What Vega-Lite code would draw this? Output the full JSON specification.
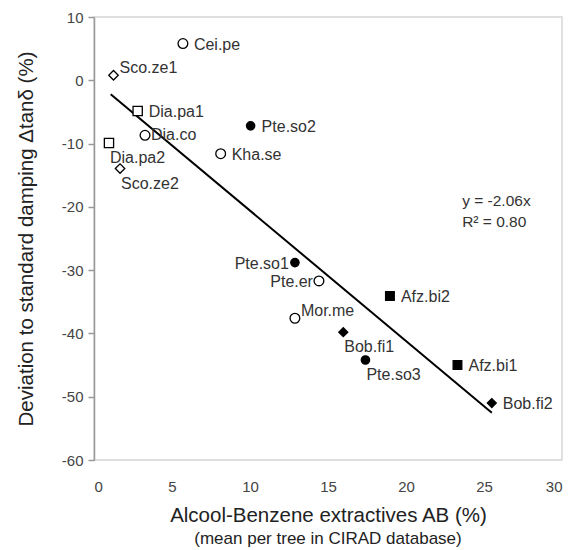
{
  "$schema": "https://vega.github.io/schema/vega-lite/v6.json",
  "width": 468,
  "height": 443,
  "autosize": {"type": "none"},
  "padding": {"left": 94, "top": 17, "right": 9, "bottom": 90},
  "background": "white",
  "config": {
    "font": "Liberation Sans",
    "view": {"stroke": "#d6d6d6", "strokeWidth": 1.5}
  },
  "title": {
    "text": "(mean per tree in CIRAD database)",
    "orient": "bottom",
    "anchor": "middle",
    "fontSize": 17,
    "fontWeight": "normal",
    "color": "#222",
    "offset": 5
  },
  "datasets": {
    "points": [
      {"name": "Cei.pe", "AB": 5.7, "dtan": 5.8, "group": "other"},
      {"name": "Sco.ze1", "AB": 1.25, "dtan": 0.8, "group": "Sco.ze"},
      {"name": "Dia.pa1", "AB": 2.8, "dtan": -4.85, "group": "Dia.pa"},
      {"name": "Dia.co", "AB": 3.27, "dtan": -8.7, "group": "other"},
      {"name": "Dia.pa2", "AB": 0.96, "dtan": -9.9, "group": "Dia.pa"},
      {"name": "Sco.ze2", "AB": 1.67, "dtan": -13.95, "group": "Sco.ze"},
      {"name": "Pte.so2", "AB": 10.04, "dtan": -7.2, "group": "Pte.so"},
      {"name": "Kha.se", "AB": 8.12, "dtan": -11.6, "group": "other"},
      {"name": "Pte.so1", "AB": 12.88, "dtan": -28.8, "group": "Pte.so"},
      {"name": "Pte.er", "AB": 14.42, "dtan": -31.7, "group": "other"},
      {"name": "Mor.me", "AB": 12.88, "dtan": -37.6, "group": "other"},
      {"name": "Afz.bi2", "AB": 18.97, "dtan": -34.1, "group": "Afz.bi"},
      {"name": "Bob.fi1", "AB": 15.98, "dtan": -39.8, "group": "Bob.fi"},
      {"name": "Pte.so3", "AB": 17.4, "dtan": -44.2, "group": "Pte.so"},
      {"name": "Afz.bi1", "AB": 23.3, "dtan": -45.0, "group": "Afz.bi"},
      {"name": "Bob.fi2", "AB": 25.5, "dtan": -51.0, "group": "Bob.fi"}
    ],
    "fit": [
      {"AB": 1.07, "dtan": -2.2},
      {"AB": 25.5, "dtan": -52.53}
    ],
    "ticks": [
      {"AB": 5}, {"AB": 10}, {"AB": 15}, {"AB": 20}, {"AB": 25}, {"AB": 30}
    ],
    "eq": [
      {"AB": 23.6, "dtan": -19.0, "label": "y = -2.06x"},
      {"AB": 23.6, "dtan": -22.4, "label": "R² = 0.80"}
    ]
  },
  "encoding": {
    "x": {
      "field": "AB",
      "type": "quantitative",
      "scale": {"domain": [0, 30], "nice": false, "zero": false},
      "axis": {
        "title": "Alcool-Benzene extractives AB (%)",
        "titleFontSize": 20.5,
        "titleFontWeight": "normal",
        "titleColor": "#222",
        "titlePadding": 11,
        "values": [0, 5, 10, 15, 20, 25, 30],
        "domain": false,
        "ticks": false,
        "grid": false,
        "labelPadding": 19,
        "labelFontSize": 15,
        "labelColor": "#444"
      }
    },
    "y": {
      "field": "dtan",
      "type": "quantitative",
      "scale": {"domain": [-60, 10], "nice": false, "zero": false},
      "axis": {
        "title": "Deviation to standard damping Δtanδ (%)",
        "titleFontSize": 20.5,
        "titleFontWeight": "normal",
        "titleColor": "#222",
        "titlePadding": 25,
        "values": [-60, -50, -40, -30, -20, -10, 0, 10],
        "labelExpr": "replace(datum.label, '\u2212', '-')",
        "domainColor": "#999",
        "domainWidth": 1.5,
        "tickColor": "#999",
        "tickWidth": 1.5,
        "tickSize": 6,
        "grid": false,
        "labelPadding": 5,
        "labelFontSize": 15,
        "labelColor": "#444"
      }
    }
  },
  "layer": [
    {
      "data": {"name": "ticks"},
      "mark": {"type": "rule", "color": "#999", "strokeWidth": 1.5},
      "encoding": {"x": null, "y": {"datum": 0}}
    },
    {
      "data": {"name": "ticks"},
      "mark": {"type": "tick", "orient": "vertical", "color": "#999", "size": 10, "thickness": 1.5},
      "encoding": {"y": {"datum": 0}}
    },
    {
      "data": {"name": "fit"},
      "mark": {"type": "line", "color": "black", "strokeWidth": 2},
      "encoding": {}
    },
    {
      "data": {"name": "points"},
      "mark": {"type": "point", "stroke": "black", "strokeWidth": 1.3, "opacity": 1, "filled": false},
      "encoding": {
        "shape": {
          "field": "group",
          "type": "nominal",
          "scale": {
            "domain": ["Pte.so", "Afz.bi", "Bob.fi", "Dia.pa", "Sco.ze", "other"],
            "range": ["circle", "square", "diamond", "square", "diamond", "circle"]
          },
          "legend": null
        },
        "fill": {
          "field": "group",
          "type": "nominal",
          "scale": {
            "domain": ["Pte.so", "Afz.bi", "Bob.fi", "Dia.pa", "Sco.ze", "other"],
            "range": ["black", "black", "black", "white", "white", "white"]
          },
          "legend": null
        },
        "size": {
          "field": "group",
          "type": "nominal",
          "scale": {
            "domain": ["Pte.so", "Afz.bi", "Bob.fi", "Dia.pa", "Sco.ze", "other"],
            "range": [70, 95, 110, 115, 90, 75]
          },
          "legend": null
        }
      }
    },
    {
      "data": {"name": "points"},
      "transform": [{"filter": {"field": "name", "oneOf": ["Cei.pe", "Pte.so2", "Kha.se", "Bob.fi2", "Afz.bi2", "Afz.bi1", "Dia.pa1"]}}],
      "mark": {"type": "text", "align": "left", "baseline": "middle", "dx": 11, "dy": 1, "fontSize": 16, "color": "#333"},
      "encoding": {"text": {"field": "name"}}
    },
    {
      "data": {"name": "points"},
      "transform": [{"filter": {"field": "name", "oneOf": ["Dia.co"]}}],
      "mark": {"type": "text", "align": "left", "baseline": "middle", "dx": 6, "dy": 0, "fontSize": 16, "color": "#333"},
      "encoding": {"text": {"field": "name"}}
    },
    {
      "data": {"name": "points"},
      "transform": [{"filter": {"field": "name", "oneOf": ["Sco.ze1", "Mor.me"]}}],
      "mark": {"type": "text", "align": "left", "baseline": "middle", "dx": 6, "dy": -7, "fontSize": 16, "color": "#333"},
      "encoding": {"text": {"field": "name"}}
    },
    {
      "data": {"name": "points"},
      "transform": [{"filter": {"field": "name", "oneOf": ["Dia.pa2", "Sco.ze2", "Bob.fi1", "Pte.so3"]}}],
      "mark": {"type": "text", "align": "left", "baseline": "middle", "dx": 1, "dy": 15, "fontSize": 16, "color": "#333"},
      "encoding": {"text": {"field": "name"}}
    },
    {
      "data": {"name": "points"},
      "transform": [{"filter": {"field": "name", "oneOf": ["Pte.so1", "Pte.er"]}}],
      "mark": {"type": "text", "align": "right", "baseline": "middle", "dx": -6, "dy": 1, "fontSize": 16, "color": "#333"},
      "encoding": {"text": {"field": "name"}}
    },
    {
      "data": {"name": "eq"},
      "mark": {"type": "text", "align": "left", "baseline": "middle", "fontSize": 15.5, "color": "#333"},
      "encoding": {"text": {"field": "label"}}
    }
  ]
}
